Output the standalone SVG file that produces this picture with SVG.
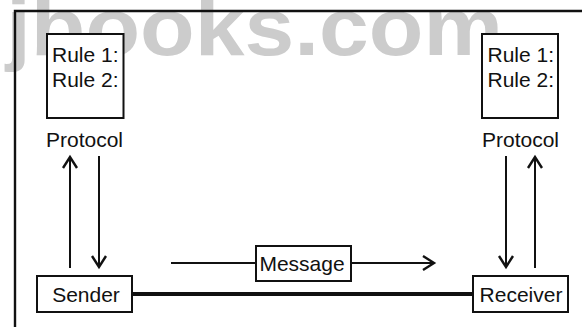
<svg xmlns="http://www.w3.org/2000/svg" width="582" height="327" viewBox="0 0 582 327">
<style>
.box{fill:#fff;stroke:#111;stroke-width:2}
.t{font-family:"Liberation Sans",Arial,sans-serif;font-size:21px;fill:#111}
.ln{stroke:#111;stroke-width:2;fill:none}
.wm{font-family:"Liberation Sans",Arial,sans-serif;font-weight:bold;font-size:82px;fill:#cccccc}
</style>
<defs>
<marker id="ah" markerUnits="userSpaceOnUse" markerWidth="20" markerHeight="20" viewBox="-14 -10 16 20" refX="0" refY="0" orient="auto">
<path d="M-11,-7 L0,0 L-11,7" fill="none" stroke="#111" stroke-width="2.4"/>
</marker>
</defs>
<rect width="582" height="327" fill="#fff"/>
<text class="wm" x="6" y="55" textLength="497" lengthAdjust="spacingAndGlyphs">jbooks.com</text>
<g id="frame">
<path d="M15,327 V11 H582" fill="none" stroke="#111" stroke-width="2.4"/>
</g>
<g id="connectors">
<line class="ln" x1="70" y1="268" x2="70" y2="157" marker-end="url(#ah)"/>
<line class="ln" x1="99" y1="156" x2="99" y2="267" marker-end="url(#ah)"/>
<line class="ln" x1="506" y1="156" x2="506" y2="267" marker-end="url(#ah)"/>
<line class="ln" x1="535" y1="268" x2="535" y2="157" marker-end="url(#ah)"/>
<line x1="133" y1="294" x2="473" y2="294" stroke="#111" stroke-width="4"/>
<line class="ln" x1="171" y1="263" x2="256" y2="263"/>
<line class="ln" x1="351" y1="263" x2="434" y2="263" marker-end="url(#ah)"/>
</g>
<g id="protocol-left">
<rect class="box" x="47" y="34" width="76.5" height="84"/>
<text class="t" x="52" y="62">Rule 1:</text>
<text class="t" x="52" y="87">Rule 2:</text>
<text class="t" x="46" y="147">Protocol</text>
</g>
<g id="protocol-right">
<rect class="box" x="482" y="34" width="76" height="84"/>
<text class="t" x="487.5" y="62">Rule 1:</text>
<text class="t" x="487.5" y="87">Rule 2:</text>
<text class="t" x="482" y="147">Protocol</text>
</g>
<g id="sender">
<rect class="box" x="37" y="276" width="95" height="36"/>
<text class="t" x="86" y="302" text-anchor="middle">Sender</text>
</g>
<g id="receiver">
<rect class="box" x="473" y="276" width="95" height="36"/>
<text class="t" x="521" y="302" text-anchor="middle">Receiver</text>
</g>
<g id="message">
<rect class="box" x="256" y="246" width="95" height="35"/>
<text class="t" x="302" y="271" text-anchor="middle">Message</text>
</g>
</svg>
